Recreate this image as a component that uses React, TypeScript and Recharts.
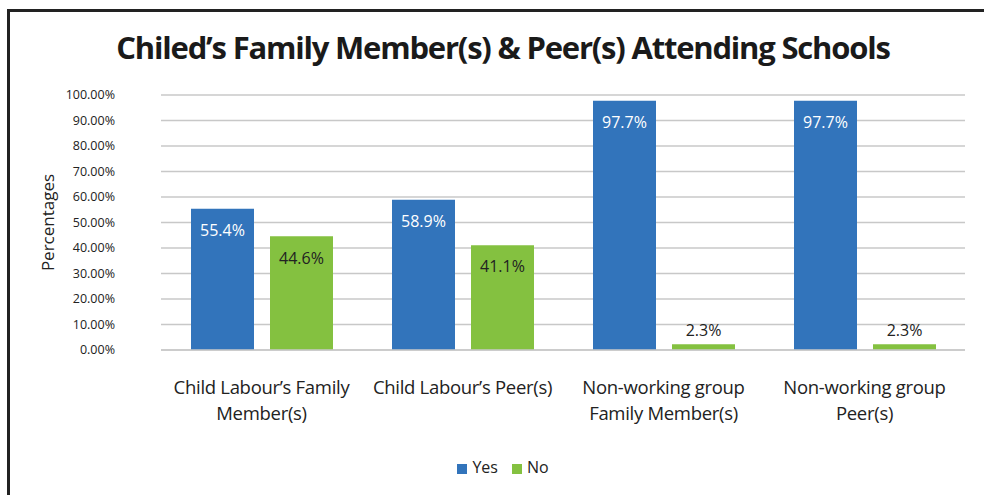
import React from "react";
import { BarChart, Bar, XAxis, YAxis, CartesianGrid, LabelList, Label } from "recharts";

const categories = [
  "Child Labour’s Family\nMember(s)",
  "Child Labour’s Peer(s)",
  "Non-working group\nFamily Member(s)",
  "Non-working group\nPeer(s)",
];
const yesValues = [55.4, 58.9, 97.7, 97.7];
const noValues = [44.6, 41.1, 2.3, 2.3];
const yTicks = [0, 10, 20, 30, 40, 50, 60, 70, 80, 90, 100];

const data = categories.map((name, i) => ({ name, yes: yesValues[i], no: noValues[i] }));

const BLUE = "#3274BB";
const GREEN = "#84C140";
const FONT = "'Open Sans', sans-serif";

const CategoryTick = (props: any) => {
  const { x, y, payload } = props;
  const lines = String(payload.value).split("\n");
  return (
    <g transform={`translate(${x},${y})`}>
      {lines.map((line, i) => (
        <text
          key={i}
          x={0}
          y={31 + i * 26}
          textAnchor="middle"
          dominantBaseline="middle"
          fontSize={18.5}
          letterSpacing={-0.3}
          fontFamily={FONT}
          fill="#222"
        >
          {line}
        </text>
      ))}
    </g>
  );
};

const makeValueLabel = (insideColor: string) => (props: any) => {
  const { x, y, width, height, value } = props;
  const inside = height > 30;
  return (
    <text
      x={x + width / 2}
      y={inside ? y + 23 : y - 12}
      textAnchor="middle"
      dominantBaseline="middle"
      fontSize={16}
      fontFamily={FONT}
      fill={inside ? insideColor : "#222"}
    >
      {`${Number(value).toFixed(1)}%`}
    </text>
  );
};

const legendItems = [
  { label: "Yes", color: BLUE },
  { label: "No", color: GREEN },
];

export default function App() {
  return (
    <div style={{ position: "absolute", left: 0, top: 0, width: 984, height: 495, background: "#fff", overflow: "hidden" }}>
      <div
        style={{
          position: "absolute",
          left: 7,
          top: 9,
          width: 1100,
          height: 600,
          borderTop: "3px solid #222",
          borderLeft: "3px solid #222",
        }}
      />
      <div
        style={{
          position: "absolute",
          left: 8,
          width: 990,
          top: 26,
          textAlign: "center",
          fontFamily: FONT,
          fontWeight: 700,
          fontSize: 31,
          letterSpacing: -1.2,
          color: "#1a1a1a",
        }}
      >
        Chiled’s Family Member(s) &amp; Peer(s) Attending Schools
      </div>
      <div style={{ position: "absolute", left: 0, top: 0 }}>
        <BarChart
          width={984}
          height={495}
          data={data}
          margin={{ top: 95, right: 19, bottom: 85, left: 0 }}
          barCategoryGap={30}
          barGap={16}
        >
          <CartesianGrid vertical={false} stroke="#c8c8c8" strokeWidth={1.5} />
          <XAxis
            dataKey="name"
            axisLine={{ stroke: "#c8c8c8", strokeWidth: 1.5 }}
            tickLine={false}
            tick={<CategoryTick />}
            interval={0}
            height={60}
          />
          <YAxis
            width={161}
            domain={[0, 100]}
            ticks={yTicks}
            tickFormatter={(v: number) => `${v.toFixed(2)}%`}
            axisLine={false}
            tickLine={false}
            tickMargin={40}
            tick={{ fontSize: 12.5, fontFamily: FONT, fill: "#222" }}
          >
            <Label
              value="Percentages"
              angle={-90}
              position="insideLeft"
              offset={48}
              style={{ fontSize: 17, fontFamily: FONT, fill: "#222", textAnchor: "middle" }}
            />
          </YAxis>
          <Bar dataKey="yes" name="Yes" fill={BLUE} isAnimationActive={false}>
            <LabelList dataKey="yes" content={makeValueLabel("#fff")} />
          </Bar>
          <Bar dataKey="no" name="No" fill={GREEN} isAnimationActive={false}>
            <LabelList dataKey="no" content={makeValueLabel("#222")} />
          </Bar>
        </BarChart>
      </div>
      <div
        style={{
          position: "absolute",
          top: 456,
          left: 0,
          width: 1006,
          display: "flex",
          justifyContent: "center",
          alignItems: "center",
          gap: 14,
          fontFamily: FONT,
          fontSize: 16,
          color: "#222",
        }}
      >
        {legendItems.map((item) => (
          <span key={item.label} style={{ display: "flex", alignItems: "center", gap: 5 }}>
            <span style={{ width: 10, height: 10, background: item.color, display: "inline-block", marginTop: 3 }} />
            {item.label}
          </span>
        ))}
      </div>
    </div>
  );
}
